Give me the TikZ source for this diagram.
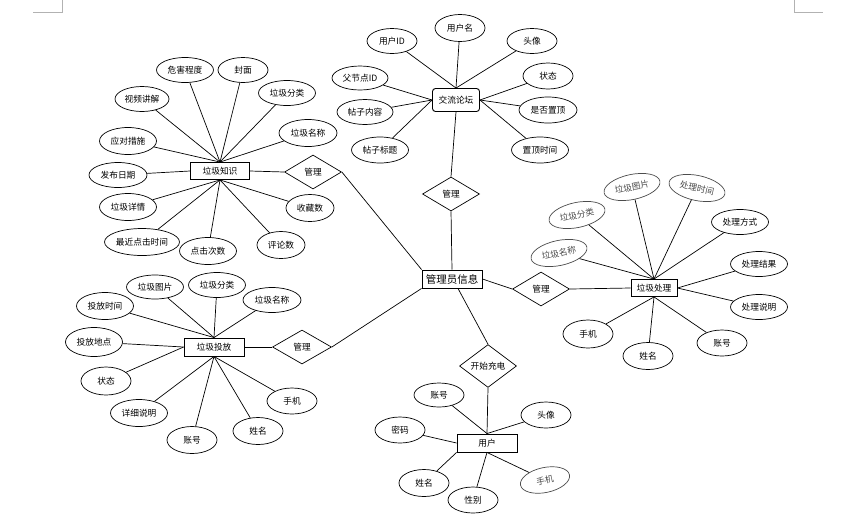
\documentclass[tikz,border=0pt]{standalone}
\usepackage{fontspec}
\setmainfont{Noto Sans CJK SC}
\usetikzlibrary{shapes.geometric}
\tikzset{
  base/.style={font=\fontsize{8.7}{10}\selectfont, line width=0.7pt},
  ent/.style={base, draw, rectangle, line width=0.9pt, minimum width=58, minimum height=17, inner sep=2pt},
  attr/.style={base, draw, ellipse, minimum width=50, minimum height=25, inner sep=0pt},
  attrw/.style={attr, minimum width=57},
  gattr/.style={draw=black!70, text=black!70},
  rel/.style={base, draw, diamond, minimum width=57, minimum height=34, inner sep=0pt},
  lnk/.style={line width=0.7pt},
  pagemark/.style={draw=black!30, line width=0.8pt}
}
\begin{document}
\begin{tikzpicture}[x=1pt,y=-1pt]
\useasboundingbox[fill=white] (0,0) rectangle (866,515);
% page corner marks
\coordinate (m1) at (33,12); \coordinate (m2) at (62,12); \coordinate (m3) at (62,0);
\coordinate (m4) at (794,0); \coordinate (m5) at (794,12); \coordinate (m6) at (823,12);
\draw[pagemark] (m1) -- (m2) -- (m3);
\draw[pagemark] (m4) -- (m5) -- (m6);

% entities
\node[ent, minimum width=59] (zs) at (220,171) {垃圾知识};
\node[ent, rounded corners=3pt, minimum width=47, minimum height=23] (lt) at (456,100) {交流论坛};
\node[ent, minimum width=60, minimum height=18, font=\fontsize{10.5}{12}\selectfont] (gl) at (452,279) {管理员信息};
\node[ent, minimum width=46] (cl) at (654,288) {垃圾处理};
\node[ent, minimum width=60, minimum height=18] (tf) at (214,347) {垃圾投放};
\node[ent, minimum width=60, minimum height=18] (yh) at (487,443) {用户};

% relations
\node[rel] (r1) at (313,172) {管理};
\node[rel] (r2) at (451,194) {管理};
\node[rel] (r3) at (541,289) {管理};
\node[rel, minimum width=59] (r4) at (302,347) {管理};
\node[rel] (r5) at (488,366) {开始充电};

% attributes of 垃圾知识
\node[attrw] (a1) at (185,70) {危害程度};
\node[attr] (a2) at (243,70) {封面};
\node[attrw, minimum width=54] (a3) at (142,99) {视频讲解};
\node[attrw] (a4) at (287,93) {垃圾分类};
\node[attrw, minimum width=58, minimum height=27] (a5) at (308,133) {垃圾名称};
\node[attrw, minimum height=27] (a6) at (128,141) {应对措施};
\node[attrw, minimum width=58] (a7) at (118,175) {发布日期};
\node[attr, minimum width=48, minimum height=27] (a8) at (310,208) {收藏数};
\node[attrw, minimum height=27] (a9) at (128,207) {垃圾详情};
\node[attr, minimum width=75, minimum height=27] (a10) at (142,242) {最近点击时间};
\node[attrw, minimum height=27] (a11) at (208,251) {点击次数};
\node[attr, minimum width=48, minimum height=27] (a12) at (281,245) {评论数};
\foreach \n in {a1,a2,a3,a4,a5,a6} \draw[lnk] (\n) -- (zs.north);
\draw[lnk] (a7) -- (zs.west);
\foreach \n in {a8,a9,a10,a11,a12} \draw[lnk] (\n) -- (zs.south);

% attributes of 交流论坛
\node[attr] (b1) at (392,41) {用户ID};
\node[attr, minimum height=27] (b2) at (460,28) {用户名};
\node[attr] (b3) at (532,41) {头像};
\node[attrw, minimum width=56, minimum height=24] (b4) at (360,78) {父节点ID};
\node[attr, minimum height=26] (b5) at (548,76) {状态};
\node[attrw, minimum width=56] (b6) at (365,112) {帖子内容};
\node[attrw, minimum width=58, minimum height=26] (b7) at (548,110) {是否置顶};
\node[attrw, minimum height=26] (b8) at (380,150) {帖子标题};
\node[attrw, minimum height=26] (b9) at (540,150) {置顶时间};
\foreach \n in {b1,b2,b3} \draw[lnk] (\n) -- (lt.north);
\foreach \n in {b4,b6,b8} \draw[lnk] (\n) -- (lt.west);
\foreach \n in {b5,b7,b9} \draw[lnk] (\n) -- (lt.east);

% attributes of 垃圾投放
\node[attrw, minimum height=24] (c1) at (155,287) {垃圾图片};
\node[attrw, minimum height=25] (c2) at (217,285) {垃圾分类};
\node[attrw, minimum height=27] (c3) at (105,306) {投放时间};
\node[attrw, minimum width=58] (c4) at (272,300) {垃圾名称};
\node[attrw, minimum height=29] (c5) at (94,342) {投放地点};
\node[attr, minimum height=28] (c6) at (106,381) {状态};
\node[attr, minimum height=26] (c7) at (292,401) {手机};
\node[attrw, minimum height=27] (c8) at (139,413) {详细说明};
\node[attr, minimum height=27] (c9) at (258,431) {姓名};
\node[attr, minimum height=27] (c10) at (192,440) {账号};
\foreach \n in {c1,c2,c3,c4} \draw[lnk] (\n) -- (tf.north);
\foreach \n in {c5,c6} \draw[lnk] (\n) -- (tf.west);
\foreach \n in {c7,c8,c9,c10} \draw[lnk] (\n) -- (tf.south);

% attributes of 垃圾处理
\node[attrw, gattr, rotate=12] (d1) at (577,215) {垃圾分类};
\node[attrw, gattr, rotate=12] (d2) at (632,187) {垃圾图片};
\node[attrw, gattr, rotate=-12] (d3) at (697,188) {处理时间};
\node[attrw] (d4) at (740,222) {处理方式};
\node[attrw, gattr, rotate=12] (d5) at (559,253) {垃圾名称};
\node[attrw] (d6) at (759,264) {处理结果};
\node[attrw] (d7) at (759,307) {处理说明};
\node[attr, minimum height=28] (d8) at (588,334) {手机};
\node[attr, minimum height=26] (d9) at (722,343) {账号};
\node[attr, minimum height=27] (d10) at (648,356) {姓名};
\foreach \n in {d1,d2,d3,d4,d5} \draw[lnk] (\n) -- (cl.north);
\foreach \n in {d6,d7} \draw[lnk] (\n) -- (cl.east);
\foreach \n in {d8,d9,d10} \draw[lnk] (\n) -- (cl.south);

% attributes of 用户
\node[attr, minimum height=24] (e1) at (439,395) {账号};
\node[attr, minimum height=26] (e2) at (546,415) {头像};
\node[attr, minimum height=26] (e3) at (400,430) {密码};
\node[attr, minimum height=27] (e4) at (424,483) {姓名};
\node[attr, minimum height=26] (e5) at (473,500) {性别};
\node[attr, gattr, rotate=12] (e6) at (545,480) {手机};
\foreach \n in {e1,e2} \draw[lnk] (\n) -- (yh.north);
\draw[lnk] (e3) -- (yh.west);
\draw[lnk] (e4) -- (yh.south west);
\foreach \n in {e5,e6} \draw[lnk] (\n) -- (yh.south);

% relationships
\draw[lnk] (zs.east) -- (r1.west);
\draw[lnk] (r1.east) -- (gl.north west);
\draw[lnk] (lt.south) -- (r2.north);
\draw[lnk] (r2.south) -- (gl.north);
\draw[lnk] (gl.east) -- (r3.west);
\draw[lnk] (r3.east) -- (cl.west);
\draw[lnk] (tf.east) -- (r4.west);
\draw[lnk] (r4.east) -- (gl.south west);
\draw[lnk] ([xshift=6pt]gl.south) -- (r5.north);
\draw[lnk] (r5.south) -- (yh.north);
\end{tikzpicture}
\end{document}
